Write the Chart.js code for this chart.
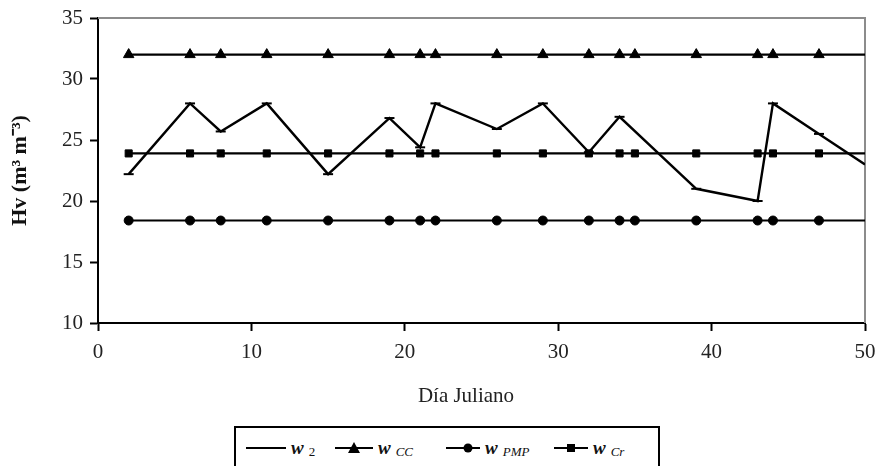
<!DOCTYPE html>
<html>
<head>
<meta charset="utf-8">
<script src="https://cdn.jsdelivr.net/npm/chart.js@4.4.1/dist/chart.umd.min.js"></script>
<style>
  html, body { margin: 0; padding: 0; background: #fff; }
  #wrap { position: relative; width: 875px; height: 466px; overflow: hidden; }
  #xtitle { position: absolute; left: 366px; width: 200px; top: 381px; text-align: center;
            font-family: 'Liberation Serif', 'Times New Roman', serif; font-size: 21px; line-height: 28px; color: #222; }
  #legend { position: absolute; left: 234px; top: 426px; width: 426px; height: 60px;
            border: 2px solid #000; box-sizing: border-box; background: #fff;
            font-family: 'Liberation Serif', 'Times New Roman', serif; color: #111; }
  .item { position: absolute; top: 9px; height: 22px; display: flex; align-items: center; white-space: nowrap; }
  .item svg { display: block; }
  .w { font-style: italic; font-weight: bold; font-size: 19px; margin-left: 4px; }
  .sub { font-size: 13px; position: relative; top: 4px; margin-left: 5px; }
  .it { font-style: italic; }
</style>
</head>
<body>
<div id="wrap">
  <canvas id="c" width="875" height="466"></canvas>
  <div id="xtitle">Día Juliano</div>
  <div id="legend">
    <div class="item" style="left:9px">
      <svg width="42" height="12"><line x1="1" y1="6" x2="41" y2="6" stroke="#000" stroke-width="2"/></svg>
      <span class="w">w</span><span class="sub">2</span>
    </div>
    <div class="item" style="left:98px">
      <svg width="40" height="14"><line x1="1" y1="7" x2="39" y2="7" stroke="#000" stroke-width="2"/><polygon points="20,1 26,12 14,12" fill="#000"/></svg>
      <span class="w">w</span><span class="sub it">CC</span>
    </div>
    <div class="item" style="left:209px">
      <svg width="36" height="14"><line x1="1" y1="7" x2="35" y2="7" stroke="#000" stroke-width="2"/><circle cx="23" cy="7" r="4.5" fill="#000"/></svg>
      <span class="w">w</span><span class="sub it">PMP</span>
    </div>
    <div class="item" style="left:317px">
      <svg width="36" height="14"><line x1="1" y1="7" x2="35" y2="7" stroke="#000" stroke-width="2"/><rect x="14" y="3" width="8" height="8" fill="#000"/></svg>
      <span class="w">w</span><span class="sub it">Cr</span>
    </div>
  </div>
</div>
<script>
// ---- data ----
const xTicks = [0, 10, 20, 30, 40, 50];
const yTicks = [10, 15, 20, 25, 30, 35];
const w2Days = [2, 6, 8, 11, 15, 19, 21, 22, 26, 29, 32, 34, 39, 43, 44, 47, 50];
const w2Vals = [22.2, 28, 25.7, 28, 22.2, 26.8, 24.4, 28, 25.9, 28, 24, 26.9, 21, 20, 28, 25.5, 23];
const refDays = [2, 6, 8, 11, 15, 19, 21, 22, 26, 29, 32, 34, 35, 39, 43, 44, 47, 50];
const wCCVals = [32, 32, 32, 32, 32, 32, 32, 32, 32, 32, 32, 32, 32, 32, 32, 32, 32, 32];
const wPMPVals = [18.4, 18.4, 18.4, 18.4, 18.4, 18.4, 18.4, 18.4, 18.4, 18.4, 18.4, 18.4, 18.4, 18.4, 18.4, 18.4, 18.4, 18.4];
const wCrVals = [23.9, 23.9, 23.9, 23.9, 23.9, 23.9, 23.9, 23.9, 23.9, 23.9, 23.9, 23.9, 23.9, 23.9, 23.9, 23.9, 23.9, 23.9];

const pts = (xs, ys) => xs.map((x, i) => ({ x: x, y: ys[i] }));
const lastHidden = (xs, r) => xs.map((x, i) => (i === xs.length - 1 ? 0 : r));

const frame = {
  id: 'frame',
  beforeDatasetsDraw(chart) {
    const a = chart.chartArea, ctx = chart.ctx;
    ctx.save();
    ctx.strokeStyle = '#8c8c8c';
    ctx.lineWidth = 2;
    ctx.beginPath();
    ctx.moveTo(a.left, a.top);
    ctx.lineTo(a.right, a.top);
    ctx.lineTo(a.right, a.bottom);
    ctx.stroke();
    ctx.restore();
  }
};

const serif = "'Liberation Serif', 'Times New Roman', serif";

new Chart(document.getElementById('c'), {
  type: 'line',
  data: {
    datasets: [
      { label: 'w2', data: pts(w2Days, w2Vals), borderColor: '#000', backgroundColor: '#000',
        borderWidth: 2.4, pointStyle: 'line', pointRadius: lastHidden(w2Days, 5), pointBorderWidth: 2, tension: 0 },
      { label: 'wCC', data: pts(refDays, wCCVals), borderColor: '#000', backgroundColor: '#000',
        borderWidth: 2.2, pointStyle: 'triangle', pointRadius: lastHidden(refDays, 6), pointBorderWidth: 1 },
      { label: 'wPMP', data: pts(refDays, wPMPVals), borderColor: '#000', backgroundColor: '#000',
        borderWidth: 2.2, pointStyle: 'circle', pointRadius: lastHidden(refDays, 4.5), pointBorderWidth: 1 },
      { label: 'wCr', data: pts(refDays, wCrVals), borderColor: '#000', backgroundColor: '#000',
        borderWidth: 2.2, pointStyle: 'rect', pointRadius: lastHidden(refDays, 5), pointBorderWidth: 1 }
    ]
  },
  options: {
    responsive: false,
    animation: false,
    devicePixelRatio: 1,
    layout: { padding: { top: 18, right: 10, bottom: 55, left: 0 } },
    plugins: { legend: { display: false }, tooltip: { enabled: false } },
    scales: {
      x: {
        type: 'linear', min: 0, max: 50,
        afterFit: s => { s.height = 88; s.paddingLeft = 0; s.paddingRight = 0; },
        afterBuildTicks: s => { s.ticks = xTicks.map(v => ({ value: v })); },
        ticks: { color: '#222', font: { family: serif, size: 21 }, padding: 9, maxRotation: 0 },
        grid: { drawOnChartArea: false, drawTicks: true, tickLength: 8, color: '#000', tickWidth: 2 },
        border: { color: '#000', width: 2 },
        title: { display: false }
      },
      y: {
        type: 'linear', min: 10, max: 35,
        afterFit: s => { s.width = 98; s.paddingTop = 0; s.paddingBottom = 0; },
        afterBuildTicks: s => { s.ticks = yTicks.map(v => ({ value: v })); },
        ticks: { color: '#222', font: { family: serif, size: 21 }, padding: 7 },
        grid: { drawOnChartArea: false, drawTicks: true, tickLength: 8, color: '#000', tickWidth: 2 },
        border: { color: '#000', width: 2 },
        title: { display: true, text: 'Hv (m³ m⁻³)', color: '#111', font: { family: serif, size: 22, weight: 'bold' }, padding: { top: 7, bottom: 0 } }
      }
    }
  },
  plugins: [frame]
});
</script>
</body>
</html>
